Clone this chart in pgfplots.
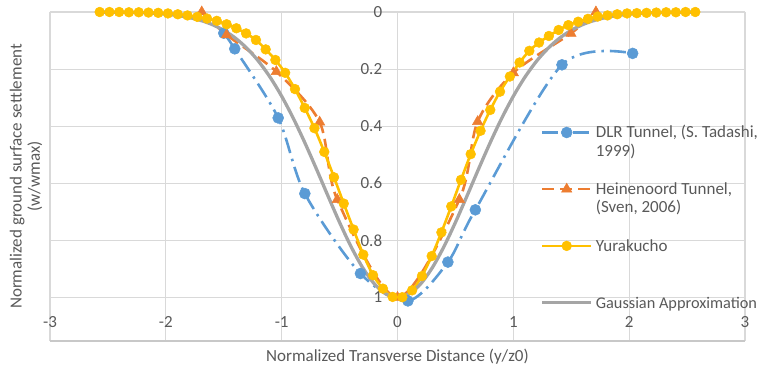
\documentclass[border=0pt]{standalone}
\usepackage{pgfplots}
\pgfplotsset{compat=1.18}
\usepackage{fontspec}
\setmainfont{Carlito}
\definecolor{cblue}{HTML}{5B9BD5}
\definecolor{corange}{HTML}{ED7D31}
\definecolor{cyellow}{HTML}{FFC000}
\definecolor{cgray}{HTML}{A5A5A5}
\definecolor{ctext}{HTML}{595959}
\definecolor{cgrid}{HTML}{D9D9D9}
\definecolor{caxis}{HTML}{C8C8C8}
\begin{document}
\fontsize{17}{18.2}\selectfont
\begin{tikzpicture}
\useasboundingbox (-50pt,-30pt) rectangle (711pt,341pt);
\begin{axis}[
  at={(0pt,0pt)}, anchor=south west,
  scale only axis, width=695pt, height=329pt,
  xmin=-3, xmax=3, ymin=0, ymax=1.1524,
  y dir=reverse,
  clip=false,
  xtick={-3,-2,-1,0,1,2,3}, xticklabels={-3,-2,-1,0,1,2,3},
  ytick={0,0.2,0.4,0.6,0.8,1}, yticklabels={0,0.2,0.4,0.6,0.8,1},
  grid=major, major grid style={cgrid, line width=1.1pt},
  axis line style={draw=none},
  major tick length=0pt,
  tick label style={text=ctext},
  yticklabel style={xshift=338pt},
  xticklabel style={anchor=center, yshift=19pt},
  xlabel={Normalized Transverse Distance (y/z0)},
  ylabel={Normalized ground surface settlement\\(w/wmax)},
  label style={text=ctext, align=center},
  xlabel style={at={(axis cs:0,1.1524)}, anchor=center, yshift=-16pt},
  ylabel style={at={(axis description cs:-0.0345,0.5)}, anchor=center},
  legend style={at={(axis cs:1.235,0.3993)}, anchor=north west, draw=none, fill=none,
    inner sep=0pt, outer sep=0pt, row sep=0pt, column sep=3pt,
    nodes={inner sep=0pt, text height=12pt, text depth=44.7pt, text=ctext},
    cells={anchor=base west}},
  legend image code/.code={\draw[mark repeat=2, mark phase=2, #1, yshift=5.5pt] plot coordinates {(0pt,0pt)(24.5pt,0pt)(49pt,0pt)};},
]
\draw[caxis, line width=1.1pt] (axis cs:-3,1.1524) -- (axis cs:3,1.1524);

\addplot[cblue, line width=2.6pt, smooth, dash pattern=on 16pt off 6pt on 2.5pt off 6pt,
  mark=*, mark size=5.5pt, mark options={solid, fill=cblue, draw=cblue, line width=0.5pt}]
  coordinates {(-1.50,0.074) (-1.405,0.129) (-1.03,0.371) (-0.80,0.636) (-0.32,0.916) (0.09,1.012) (0.435,0.876) (0.672,0.693) (1.42,0.185) (2.03,0.145)};
\addlegendentry{\begin{tabular}[t]{@{}l@{}}DLR Tunnel, (S. Tadashi,\\1999)\end{tabular}}

\addplot[corange, line width=2.6pt, smooth, dash pattern=on 12pt off 6pt,
  mark=triangle*, mark size=6pt, mark options={solid, fill=corange, draw=corange, line width=0.5pt}]
  coordinates {(-1.69,0) (-1.476,0.08) (-1.046,0.209) (-0.672,0.386) (-0.52,0.657) (0,1) (0.534,0.657) (0.692,0.384) (1.0,0.213) (1.497,0.075) (1.713,0)};
\addlegendentry{\begin{tabular}[t]{@{}l@{}}Heinenoord Tunnel,\\(Sven, 2006)\end{tabular}}

\addplot[cyellow, line width=2.6pt, smooth,
  mark=*, mark size=4.9pt, mark options={solid, fill=cyellow, draw=cyellow, line width=0.5pt}]
  coordinates {(-2.571,0) (-2.487,0) (-2.403,0) (-2.319,0.001) (-2.234,0.001) (-2.150,0.002) (-2.066,0.003) (-1.982,0.005) (-1.897,0.008) (-1.813,0.012) (-1.728,0.017) (-1.644,0.023) (-1.560,0.031) (-1.475,0.043) (-1.391,0.057) (-1.307,0.075) (-1.222,0.098) (-1.138,0.131) (-1.054,0.168) (-0.970,0.213) (-0.885,0.270) (-0.801,0.336) (-0.717,0.407) (-0.632,0.490) (-0.548,0.579) (-0.464,0.671) (-0.379,0.762) (-0.295,0.850) (-0.211,0.922) (-0.126,0.969) (-0.042,0.998)
  (0.042,0.999) (0.126,0.975) (0.211,0.925) (0.295,0.855) (0.379,0.772) (0.464,0.681) (0.548,0.588) (0.632,0.498) (0.717,0.416) (0.801,0.343) (0.885,0.279) (0.970,0.226) (1.054,0.177) (1.138,0.136) (1.222,0.107) (1.307,0.084) (1.391,0.063) (1.475,0.046) (1.560,0.034) (1.644,0.024) (1.728,0.016) (1.813,0.012) (1.897,0.008) (1.982,0.005) (2.066,0.004) (2.150,0.003) (2.234,0.002) (2.319,0.001) (2.403,0.001) (2.487,0) (2.571,0)};
\addlegendentry{Yurakucho}

\addplot[cgray, line width=3.3pt, smooth, no markers]
  coordinates {(-2.57,0.0003) (-2.5,0.0005) (-2.4,0.0009) (-2.3,0.0016) (-2.2,0.0027) (-2.1,0.0046) (-2.0,0.0076) (-1.9,0.0122) (-1.8,0.0192) (-1.7,0.0294) (-1.6,0.0439) (-1.5,0.0641) (-1.4,0.0914) (-1.3,0.1271) (-1.2,0.1724) (-1.1,0.2283) (-1.0,0.2950) (-0.9,0.3720) (-0.8,0.4578) (-0.7,0.5498) (-0.6,0.6444) (-0.5,0.7370) (-0.4,0.8226) (-0.3,0.8960) (-0.2,0.9523) (-0.1,0.9879) (0,1)
  (0.1,0.9879) (0.2,0.9523) (0.3,0.8960) (0.4,0.8226) (0.5,0.7370) (0.6,0.6444) (0.7,0.5498) (0.8,0.4578) (0.9,0.3720) (1.0,0.2950) (1.1,0.2283) (1.2,0.1724) (1.3,0.1271) (1.4,0.0914) (1.5,0.0641) (1.6,0.0439) (1.7,0.0294) (1.8,0.0192) (1.9,0.0122) (2.0,0.0076) (2.1,0.0046) (2.2,0.0027) (2.3,0.0016) (2.4,0.0009) (2.5,0.0005) (2.57,0.0003)};
\addlegendentry{\fontsize{16.3}{18.2}\selectfont Gaussian Approximation}
\end{axis}
\end{tikzpicture}
\end{document}
